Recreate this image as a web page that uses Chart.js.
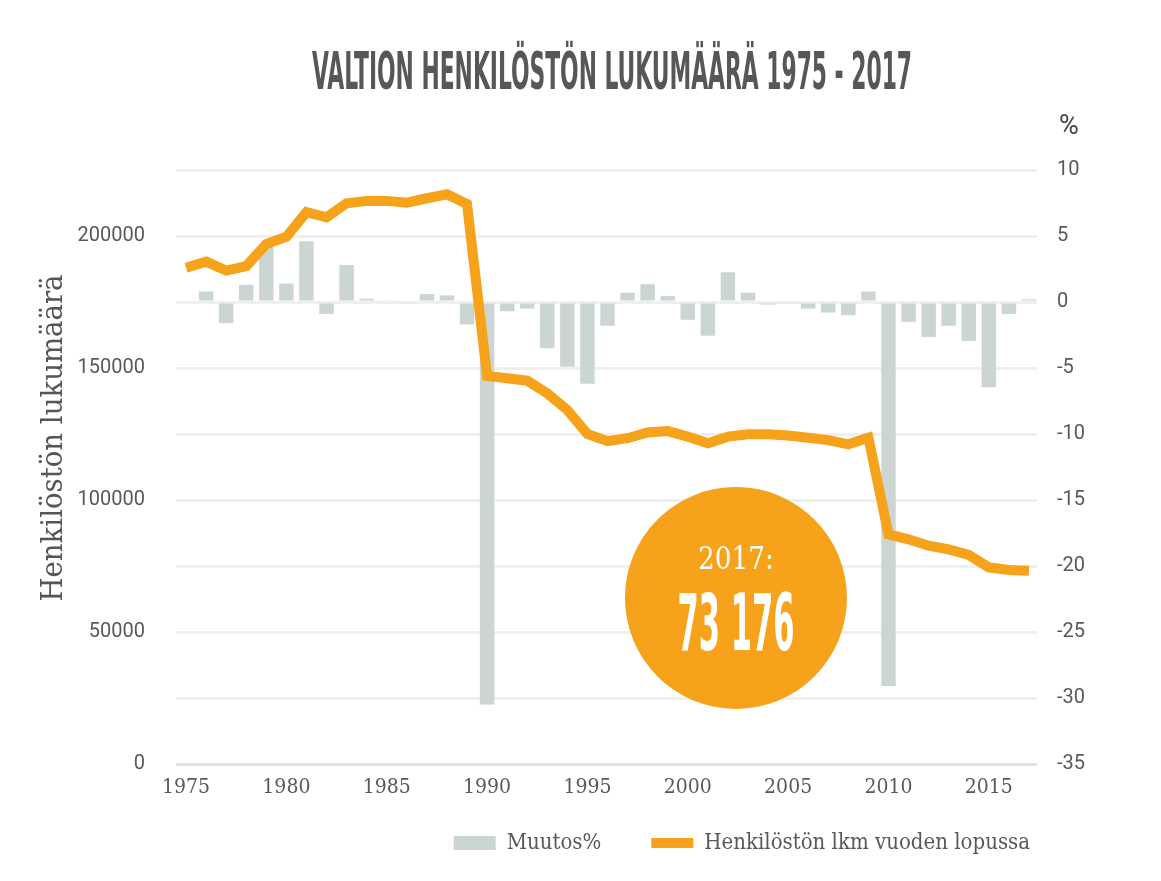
<!DOCTYPE html>
<html>
<head>
<meta charset="utf-8">
<script src="https://cdn.jsdelivr.net/npm/chart.js@4.4.1/dist/chart.umd.min.js"></script>
<style>
  html, body { margin: 0; padding: 0; background: #fff; }
  #wrap { width: 1161px; height: 881px; position: relative; }
</style>
</head>
<body>
<div id="wrap"><canvas id="myChart"></canvas></div>
<script>
// values
const years = [1975, 1976, 1977, 1978, 1979, 1980, 1981, 1982, 1983, 1984,
               1985, 1986, 1987, 1988, 1989, 1990, 1991, 1992, 1993, 1994,
               1995, 1996, 1997, 1998, 1999, 2000, 2001, 2002, 2003, 2004,
               2005, 2006, 2007, 2008, 2009, 2010, 2011, 2012, 2013, 2014,
               2015, 2016, 2017];

const headcount = [188000, 190300, 186900, 188600, 197000, 199700, 209000, 207100, 212400, 213300,
                   213300, 212600, 214300, 215800, 212100, 147000, 146100, 145200, 140400, 134100,
                   125000, 122300, 123400, 125600, 126100, 124000, 121500, 124000, 124900, 124900,
                   124400, 123600, 122700, 121100, 123600, 87000, 85100, 82700, 81300, 79200,
                   74500, 73500, 73176];

const changePct = [null, 0.8, -1.6, 1.3, 4.2, 1.4, 4.6, -0.9, 2.8, 0.25,
                   0.1, -0.1, 0.6, 0.5, -1.7, -30.5, -0.7, -0.5, -3.5, -4.9,
                   -6.2, -1.8, 0.7, 1.35, 0.45, -1.35, -2.55, 2.25, 0.7, -0.2,
                   -0.1, -0.5, -0.8, -1.0, 0.8, -29.1, -1.5, -2.65, -1.8, -2.95,
                   -6.45, -0.9, 0.2];

const yearTicks = [1975, 1980, 1985, 1990, 1995, 2000, 2005, 2010, 2015];
const countTicks = [0, 50000, 100000, 150000, 200000];
const pctTicks = [-35, -30, -25, -20, -15, -10, -5, 0, 5, 10];

const orange = '#f7a21b';
const grey = '#cbd5d2';
const textGrey = '#595959';

// badge anchored in data space
const badgeYear = 2002.4;
const badgeCount = 62900;

function fitText(ctx, text, x, y, width, font) {
    ctx.save();
    ctx.font = font;
    ctx.textAlign = 'center';
    ctx.textBaseline = 'alphabetic';
    const w = ctx.measureText(text).width;
    ctx.translate(x, y);
    ctx.scale(width / w, 1);
    ctx.fillText(text, 0, 0);
    ctx.restore();
}

// tick labels may spill past the axis box (legend needs the space)
const noLabelClip = s => { s._computeLabelArea = () => undefined; };

const decorations = {
    id: 'decorations',
    afterDraw(chart) {
        const ctx = chart.ctx;
        const xs = chart.scales.x;
        const ys = chart.scales.yCount;

        // title
        ctx.fillStyle = '#575757';
        fitText(ctx, 'VALTION HENKILÖSTÖN LUKUMÄÄRÄ 1975 - 2017', 612, 89, 600,
            'bold 52px "Liberation Sans Narrow", "DejaVu Sans Condensed", sans-serif');

        // % over right axis
        ctx.save();
        ctx.fillStyle = '#444';
        ctx.font = '27px Roboto, sans-serif';
        ctx.textAlign = 'center';
        ctx.textBaseline = 'middle';
        ctx.fillText('%', 1069, 127);
        ctx.restore();

        // left axis title
        ctx.save();
        ctx.fillStyle = '#555';
        ctx.font = '30px "DejaVu Serif Condensed", "DejaVu Serif", serif';
        ctx.textAlign = 'center';
        ctx.textBaseline = 'alphabetic';
        const t = 'Henkilöstön lukumäärä';
        const tw = ctx.measureText(t).width;
        ctx.translate(62, 438);
        ctx.rotate(-Math.PI / 2);
        ctx.scale(327 / tw, 1);
        ctx.fillText(t, 0, 0);
        ctx.restore();

        // 2017 badge
        const cx = xs.getPixelForValue(badgeYear);
        const cy = ys.getPixelForValue(badgeCount);
        ctx.save();
        ctx.fillStyle = orange;
        ctx.beginPath();
        ctx.arc(cx, cy, 111, 0, Math.PI * 2);
        ctx.fill();
        ctx.fillStyle = '#fff';
        fitText(ctx, '2017:', cx, cy - 29, 76, '32px "DejaVu Serif", serif');
        fitText(ctx, '73 176', cx, cy + 52, 117,
            'bold 78px "Liberation Sans Narrow", "DejaVu Sans Condensed", sans-serif');
        ctx.restore();
    }
};

document.addEventListener('DOMContentLoaded', function () {
    const ctx = document.getElementById('myChart').getContext('2d');

    new Chart(ctx, {
        type: 'bar',
        data: {
            datasets: [{
                type: 'line',
                label: 'Henkilöstön lkm vuoden lopussa',
                data: years.map((y, i) => ({ x: y, y: headcount[i] })),
                yAxisID: 'yCount',
                borderColor: orange,
                backgroundColor: orange,
                borderWidth: 10,
                pointRadius: 0,
                pointStyle: 'line',
                tension: 0,
                borderJoinStyle: 'miter',
                fill: false
            }, {
                type: 'bar',
                label: 'Muutos%',
                data: years.map((y, i) => ({ x: y, y: changePct[i] })),
                yAxisID: 'yPct',
                backgroundColor: grey,
                borderWidth: 0,
                pointStyle: 'rect',
                categoryPercentage: 0.8,
                barPercentage: 0.9
            }]
        },
        options: {
            responsive: true,
            maintainAspectRatio: false,
            animation: false,
            layout: { padding: { left: 0, right: 81, top: 170, bottom: 17 } },
            plugins: {
                tooltip: { enabled: false },
                legend: {
                    position: 'bottom',
                    align: 'end',
                    reverse: true,
                    labels: {
                        usePointStyle: true,
                        pointStyleWidth: 42,
                        boxHeight: 14,
                        padding: 50,
                        color: textGrey,
                        font: { family: '"DejaVu Serif Condensed", "DejaVu Serif", serif', size: 22 }
                    }
                }
            },
            scales: {
                x: {
                    type: 'linear',
                    offset: false,
                    min: 1974.5,
                    max: 2017.4,
                    grid: { display: false },
                    border: { display: false },
                    afterBuildTicks: s => { s.ticks = yearTicks.map(v => ({ value: v })); },
                    afterFit: s => { s.height = 18; noLabelClip(s); },
                    ticks: {
                        padding: 3,
                        maxRotation: 0,
                        autoSkip: false,
                        color: textGrey,
                        font: { family: '"DejaVu Serif Condensed", "DejaVu Serif", serif', size: 21 },
                        callback: v => String(v)
                    }
                },
                yCount: {
                    type: 'linear',
                    position: 'left',
                    min: 0,
                    max: 225000,
                    grid: { display: false },
                    border: { display: false },
                    afterBuildTicks: s => { s.ticks = countTicks.map(v => ({ value: v })); },
                    afterFit: s => { s.width = 176; },
                    ticks: {
                        padding: 23,
                        color: textGrey,
                        font: { family: 'Roboto, sans-serif', size: 20 },
                        callback: v => String(v)
                    }
                },
                yPct: {
                    type: 'linear',
                    position: 'right',
                    min: -35,
                    max: 10,
                    border: { display: false },
                    grid: {
                        drawTicks: false,
                        lineWidth: 3,
                        color: c => (c.tick && c.tick.value === -35) ? '#e1e5e4' : '#edf0ef'
                    },
                    afterBuildTicks: s => { s.ticks = pctTicks.map(v => ({ value: v })); },
                    afterFit: s => { s.width = 43; noLabelClip(s); },
                    ticks: {
                        padding: 20,
                        color: textGrey,
                        font: { family: 'Roboto, sans-serif', size: 20 },
                        callback: v => String(v)
                    }
                }
            }
        },
        plugins: [decorations]
    });
}, false);
</script>
</body>
</html>
